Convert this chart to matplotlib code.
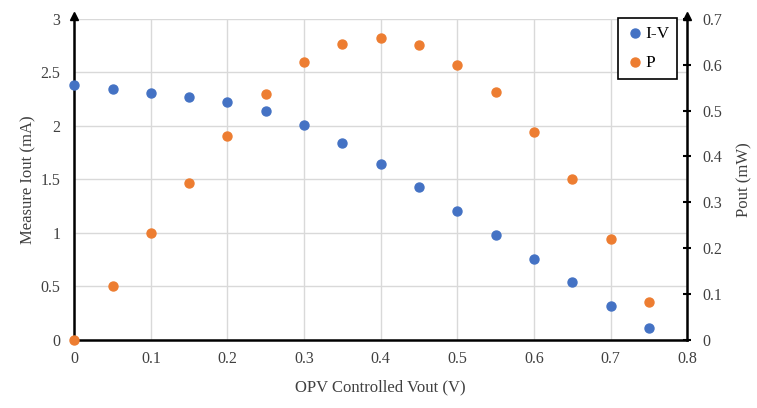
import matplotlib.pyplot as plt

# values
vout = [0, 0.05, 0.1, 0.15, 0.2, 0.25, 0.3, 0.35, 0.4, 0.45, 0.5, 0.55, 0.6, 0.65, 0.7, 0.75]
iout = [2.38, 2.34, 2.31, 2.27, 2.22, 2.14, 2.01, 1.84, 1.645, 1.427, 1.20, 0.981, 0.76, 0.542, 0.315, 0.112]
pout = [0, 0.117, 0.233, 0.341, 0.445, 0.536, 0.605, 0.646, 0.659, 0.642, 0.600, 0.540, 0.454, 0.351, 0.220, 0.083]

plt.rcParams['font.family'] = ['Liberation Serif', 'DejaVu Serif']
plt.rcParams['font.size'] = 11.5

fig = plt.figure(figsize=(7.57, 4.08), dpi=100)
ax = fig.add_axes([0.098, 0.167, 0.81, 0.787])
ax2 = ax.twinx()

h1 = ax.scatter(vout, iout, s=42, color='#4472C4', zorder=3, clip_on=False, label='I-V')
h2 = ax2.scatter(vout, pout, s=42, color='#ED7D31', zorder=3, clip_on=False, label='P')

ax.set_xlim(0, 0.8)
ax.set_ylim(0, 3)
ax2.set_ylim(0, 0.7)
ax.set_xticks([i / 10 for i in range(9)])
ax.set_xticklabels(['0', '0.1', '0.2', '0.3', '0.4', '0.5', '0.6', '0.7', '0.8'])
ax.set_yticks([0, 0.5, 1, 1.5, 2, 2.5, 3])
ax.set_yticklabels(['0', '0.5', '1', '1.5', '2', '2.5', '3'])
ax2.set_yticks([i / 10 for i in range(8)])
ax2.set_yticklabels(['0', '0.1', '0.2', '0.3', '0.4', '0.5', '0.6', '0.7'])

ax.grid(True, color='#d9d9d9', linewidth=1)
ax.set_axisbelow(True)
ax.tick_params(axis='x', length=0, pad=8, labelcolor='#404040')
ax.tick_params(axis='y', length=0, pad=10, labelcolor='#404040')
ax2.tick_params(axis='y', direction='inout', length=6, width=1.5, color='black', pad=8, labelcolor='#404040')

for a in (ax, ax2):
    a.spines['top'].set_visible(False)
    for s in ('left', 'right', 'bottom'):
        a.spines[s].set_linewidth(1.8)
        a.spines[s].set_color('black')
ax.spines['right'].set_visible(False)
ax2.spines['left'].set_visible(False)
ax2.spines['bottom'].set_visible(False)

# arrow heads on top of both y axes
ax.plot([0, 1], [1.01, 1.01], '^', color='black', markersize=6, transform=ax.transAxes, clip_on=False)

ax.set_xlabel('OPV Controlled Vout (V)', color='#404040', labelpad=9, fontsize=12)
ax.set_ylabel('Measure Iout (mA)', color='#404040', labelpad=3, fontsize=12)
ax2.set_ylabel('Pout (mW)', color='#404040', labelpad=10, fontsize=12)

leg = ax2.legend(handles=[h1, h2], loc='upper right', bbox_to_anchor=(0.983, 1.003),
                 fancybox=False, edgecolor='black', framealpha=1, handletextpad=0.1,
                 handlelength=1.0, borderpad=0.45, labelspacing=0.75, fontsize=12.5,
                 borderaxespad=0)
leg.get_frame().set_linewidth(1.2)

fig.savefig('out.png', dpi=100)
